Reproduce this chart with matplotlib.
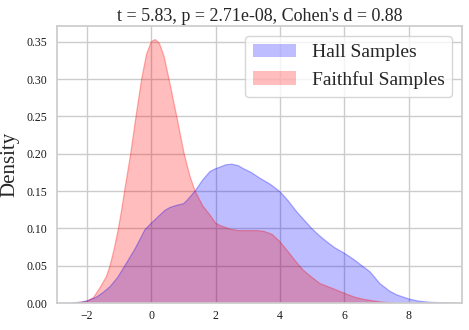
import matplotlib
matplotlib.use("Agg")
import matplotlib.pyplot as plt
import seaborn as sns
import numpy as np

# Density curves
hall_x = [-2.5, -2.2, -2.0, -1.7, -1.5, -1.28, -1.05, -0.82, -0.5, -0.2, 0.0, 0.15, 0.27, 0.42, 0.58,
          0.8, 1.0, 1.1, 1.22, 1.36, 1.6, 1.82, 2.0, 2.13, 2.3, 2.5, 2.7, 2.86, 3.1, 3.38, 3.7, 4.0,
          4.25, 4.52, 4.75, 4.98, 5.2, 5.45, 5.7, 6.0, 6.3, 6.58, 6.79, 7.1, 7.4, 7.62,
          8.0, 8.3, 8.65, 9.0, 9.5]
hall_y = [0.0, 0.001, 0.003, 0.008, 0.014, 0.022, 0.034, 0.05, 0.073, 0.098, 0.107, 0.113, 0.118, 0.124, 0.128,
          0.131, 0.133, 0.137, 0.143, 0.15, 0.165, 0.176, 0.180, 0.182, 0.185, 0.186, 0.184, 0.180, 0.175, 0.167, 0.159, 0.149,
          0.137, 0.122, 0.111, 0.10, 0.091, 0.082, 0.074, 0.0666, 0.058, 0.0487, 0.042, 0.026, 0.016, 0.011,
          0.0054, 0.0025, 0.001, 0.0003, 0.0]

faith_x = [-2.4, -2.0, -1.8, -1.6, -1.4, -1.28, -1.15, -1.02, -0.92, -0.83, -0.64, -0.475, -0.3,
           -0.15, 0.0, 0.12, 0.25, 0.4, 0.55, 0.79, 1.02, 1.2, 1.36, 1.6, 1.82, 2.0, 2.13, 2.44,
           2.7, 3.0, 3.3, 3.5, 3.75, 4.0, 4.3, 4.5, 4.72, 5.0, 5.24, 5.6, 6.0, 6.3, 6.58, 7.1, 7.5]
faith_y = [0.0, 0.002, 0.007, 0.02, 0.035, 0.05, 0.073, 0.10, 0.125, 0.15, 0.20, 0.25, 0.30,
           0.333, 0.35, 0.353, 0.348, 0.33, 0.30, 0.25, 0.20, 0.17, 0.15, 0.13, 0.118, 0.107, 0.104, 0.099,
           0.097, 0.097, 0.097, 0.096, 0.092, 0.082, 0.066, 0.055, 0.044, 0.034, 0.026, 0.02, 0.013, 0.008, 0.005, 0.0015, 0.0]

labels = ["Hall Samples", "Faithful Samples"]
title = "t = 5.83, p = 2.71e-08, Cohen's d = 0.88"
xticks = [-2, 0, 2, 4, 6, 8]
yticks = [0.00, 0.05, 0.10, 0.15, 0.20, 0.25, 0.30, 0.35]

sns.set_theme(style="whitegrid")
plt.rcParams['font.family'] = ['Liberation Serif', 'DejaVu Serif']

fig = plt.figure(figsize=(4.69, 3.30), dpi=100)
ax = fig.add_axes([0.1215, 0.0818, 0.8635, 0.8392])

for xs, ys, col, lab in [(hall_x, hall_y, "blue", labels[0]), (faith_x, faith_y, "red", labels[1])]:
    ax.fill_between(xs, ys, 0, facecolor=col, alpha=0.26, edgecolor="none", label=lab)
    ax.plot(xs, ys, color=col, alpha=0.3, lw=0.9)

ax.set_xlim(-2.93, 9.65)
ax.set_ylim(0, 0.371)
ax.set_xticks(xticks)
ax.set_yticks(yticks)
ax.set_yticklabels([f"{v:.2f}" for v in yticks])
ax.tick_params(axis='both', labelsize=8.5, colors='#1a1a1a', length=0)
ax.tick_params(axis='y', pad=7)
ax.tick_params(axis='x', pad=5)
ax.set_ylabel("Density", fontsize=15)
ax.yaxis.set_label_coords(-0.092, 0.5)
ax.set_title(title, fontsize=13, pad=4)
ax.legend(loc="upper right", fontsize=14, frameon=True, handlelength=2.2)

fig.savefig("out.png", dpi=100)
